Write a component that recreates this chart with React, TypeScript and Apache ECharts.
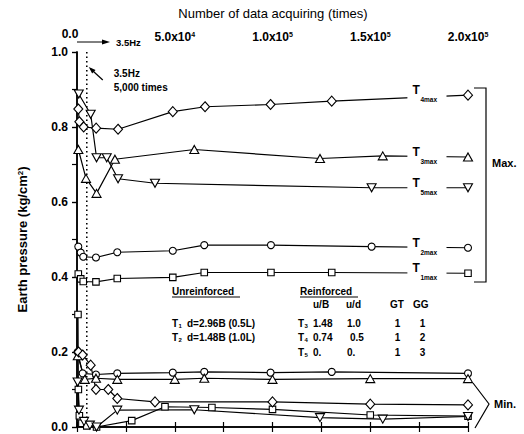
import React, { useEffect, useRef } from 'react';
import * as echarts from 'echarts';

const FONT = "'Liberation Sans', Arial, Helvetica, sans-serif";

// ---- tick labels ----
const topTickBase = ['0.0', '5.0x10', '1.0x10', '1.5x10', '2.0x10'];
const topTickExp = ['', '4', '5', '5', '5'];

// ---- data: [number of data acquiring (times), earth pressure (kg/cm2)] ----
const T1max = [[665, 0.408], [1900, 0.395], [3200, 0.388], [9700, 0.387], [20600, 0.396], [49000, 0.399], [65100, 0.412], [99200, 0.412], [130300, 0.412], [200000, 0.41]];
const T2max = [[665, 0.481], [1900, 0.465], [3200, 0.454], [9700, 0.452], [20600, 0.466], [49000, 0.47], [65100, 0.485], [99200, 0.485], [150700, 0.481], [200000, 0.478]];
const T3max = [[700, 0.74], [4600, 0.663], [10000, 0.623], [19400, 0.714], [60000, 0.74], [124300, 0.716], [156400, 0.723], [200000, 0.72]];
const T4max = [[665, 0.848], [1200, 0.814], [3400, 0.8], [9800, 0.797], [21000, 0.794], [49000, 0.841], [65500, 0.854], [99000, 0.86], [130300, 0.869], [200000, 0.885]];
const T5max = [[900, 0.888], [7000, 0.834], [10000, 0.718], [15200, 0.718], [21000, 0.662], [39900, 0.65], [150700, 0.638], [200000, 0.638]];

const T1min = [[500, 0.3], [700, 0.1], [1200, 0.03], [2500, 0.01], [5000, 0.003], [10000, 0.0], [28000, 0.017], [45000, 0.054], [69000, 0.052], [100000, 0.047], [150000, 0.032], [200000, 0.029]];
const T2min = [[300, 0.2], [2900, 0.143], [9700, 0.14], [20600, 0.143], [49000, 0.145], [65100, 0.147], [99000, 0.145], [130300, 0.147], [200000, 0.143]];
const T3min = [[400, 0.19], [4000, 0.127], [9700, 0.13], [20600, 0.127], [50000, 0.127], [65100, 0.13], [100000, 0.127], [150000, 0.129], [200000, 0.129]];
const T4min = [[800, 0.2], [2900, 0.192], [7000, 0.165], [9700, 0.1], [16000, 0.1], [20600, 0.076], [39900, 0.067], [100000, 0.067], [150000, 0.061], [200000, 0.059]];
const T5min = [[300, 0.12], [1000, 0.045], [3600, 0.015], [6600, 0.005], [10000, 0.0], [20600, 0.045], [60000, 0.046], [124300, 0.025], [156400, 0.021], [200000, 0.028]];

const hzTime = 5000;

// legend table
const unreinforcedRows = [
  { sub: '1', text: 'd=2.96B (0.5L)' },
  { sub: '2', text: 'd=1.48B (1.0L)' },
];
const reinforcedHeader = ['u/B', 'u/d', 'GT', 'GG'];
const reinforcedRows = [
  { sub: '3', vals: ['1.48', '1.0', '1', '1'] },
  { sub: '4', vals: ['0.74', '0.5', '1', '2'] },
  { sub: '5', vals: ['0.', '0.', '1', '3'] },
];

const DOWN_TRI = 'path://M0,0L10,0L5,9Z';

const seriesDefs = [
  { name: 'T1max', data: T1max, symbol: 'rect', size: 6.5 },
  { name: 'T2max', data: T2max, symbol: 'circle', size: 7 },
  { name: 'T3max', data: T3max, symbol: 'triangle', size: [9, 8] },
  { name: 'T4max', data: T4max, symbol: 'diamond', size: [9, 10] },
  { name: 'T5max', data: T5max, symbol: DOWN_TRI, size: [9, 8] },
  { name: 'T1min', data: T1min, symbol: 'rect', size: 6.5 },
  { name: 'T2min', data: T2min, symbol: 'circle', size: 7 },
  { name: 'T3min', data: T3min, symbol: 'triangle', size: [9, 8] },
  { name: 'T4min', data: T4min, symbol: 'diamond', size: [9, 10] },
  { name: 'T5min', data: T5min, symbol: DOWN_TRI, size: [9, 8] },
];

const endLabels = [
  { sub: '4max', data: T4max },
  { sub: '3max', data: T3max },
  { sub: '5max', data: T5max },
  { sub: '2max', data: T2max },
  { sub: '1max', data: T1max },
];
const gapStartX = 169000;
const gapEndX = 189000;

const txt = (text: string, x: number, y: number, size: number, o: any = {}) => ({
  type: 'text',
  x,
  y,
  z: 100,
  silent: true,
  style: {
    text,
    font: `${o.weight || 'bold'} ${size}px ${FONT}`,
    fill: '#000',
    align: o.align || 'left',
    textAlign: o.align || 'left',
    verticalAlign: o.va || 'middle',
    textVerticalAlign: o.va || 'middle',
  },
});

const axisLine = { show: true, lineStyle: { color: '#000', width: 1.5 } };

export default function App() {
  const ref = useRef<HTMLDivElement>(null);

  useEffect(() => {
    if (!ref.current) return;
    const chart = echarts.init(ref.current, null, { renderer: 'svg' });

    const series: any[] = seriesDefs.map((d) => ({
      name: d.name,
      type: 'line',
      data: d.data,
      symbol: d.symbol,
      symbolSize: d.size,
      showAllSymbol: true,
      lineStyle: { color: '#000', width: 1.2 },
      itemStyle: { color: '#fff', borderColor: '#000', borderWidth: 1.1 },
      emphasis: { disabled: true },
      silent: true,
      z: 2,
    }));
    series.push({
      name: 'hz',
      type: 'line',
      data: [[hzTime, 0], [hzTime, 1]],
      symbol: 'none',
      lineStyle: { color: '#000', width: 1.6, type: [1.5, 3] },
      silent: true,
      z: 1,
    });

    const option: any = {
      animation: false,
      backgroundColor: '#fff',
      grid: { left: 77, right: 56, top: 52, bottom: 7, containLabel: false },
      xAxis: [
        {
          type: 'value', position: 'bottom', min: 0, max: 200000, interval: 25000,
          axisLine, axisTick: { inside: true, length: 5, lineStyle: { color: '#000', width: 1.2 } },
          axisLabel: { show: false }, splitLine: { show: false },
        },
        {
          type: 'value', position: 'top', min: 0, max: 200000, interval: 25000,
          axisLine, axisTick: { inside: true, length: 5, lineStyle: { color: '#000', width: 1.2 } },
          splitLine: { show: false },
          axisLabel: {
            margin: 9,
            color: '#000',
            formatter: (v: number) => {
              if (v % 50000 !== 0) return '';
              const i = Math.round(v / 50000);
              if (!topTickExp[i]) return `{z|${topTickBase[i]}}`;
              return `{b|${topTickBase[i]}}{e|${topTickExp[i]}}`;
            },
            rich: {
              b: { fontSize: 12, fontWeight: 'bold', fontFamily: FONT, color: '#000' },
              e: { fontSize: 7, fontWeight: 'bold', fontFamily: FONT, color: '#000', verticalAlign: 'top' },
              z: { fontSize: 12, fontWeight: 'bold', fontFamily: FONT, color: '#000', padding: [0, 14, 3, 0] },
            },
          },
        },
      ],
      yAxis: [
        {
          type: 'value', position: 'left', min: 0, max: 1, interval: 0.2,
          axisLine, axisTick: { inside: false, length: 5, lineStyle: { color: '#000', width: 1.2 } },
          splitLine: { show: false },
          axisLabel: { formatter: (v: number) => v.toFixed(1), color: '#000', fontWeight: 'bold', fontSize: 12, fontFamily: FONT, margin: 9 },
          name: '{a|Earth pressure (kg/cm}{s|2}{a|)}',
          nameLocation: 'middle',
          nameRotate: 90,
          nameGap: 48,
          nameTextStyle: {
            color: '#000',
            rich: {
              a: { fontSize: 13, fontWeight: 'bold', fontFamily: FONT, color: '#000' },
              s: { fontSize: 8, fontWeight: 'bold', fontFamily: FONT, color: '#000', verticalAlign: 'top' },
            },
          },
        },
        {
          type: 'value', position: 'right', min: 0, max: 1, interval: 0.1,
          axisLine, axisTick: { inside: true, length: 5, lineStyle: { color: '#000', width: 1.2 } },
          axisLabel: { show: false }, splitLine: { show: false },
        },
      ],
      series,
    };

    chart.setOption(option);

    const px = (x: number, y: number) => chart.convertToPixel({ xAxisIndex: 0, yAxisIndex: 0 }, [x, y]) as number[];
    const g: any[] = [];

    // title
    g.push(txt('Number of data acquiring (times)', 273, 13, 13, { weight: 'normal', align: 'center' }));

    // top "0.0 -> 3.5Hz"
    const [ax0, topY] = px(0, 1);
    const ay = topY - 10;
    g.push({ type: 'line', z: 100, silent: true, shape: { x1: ax0, y1: ay, x2: ax0 + 28, y2: ay }, style: { stroke: '#000', lineWidth: 1 } });
    g.push({ type: 'polygon', z: 100, silent: true, shape: { points: [[ax0 + 33, ay], [ax0 + 25, ay - 2.5], [ax0 + 25, ay + 2.5]] }, style: { fill: '#000' } });
    g.push(txt('3.5Hz', ax0 + 39, ay, 9.5));

    // inner annotation arrow + text
    const [hx] = px(hzTime, 1);
    g.push({ type: 'line', z: 100, silent: true, shape: { x1: hx + 16, y1: 80, x2: hx + 4, y2: 69 }, style: { stroke: '#000', lineWidth: 1.2 } });
    g.push({ type: 'polygon', z: 100, silent: true, shape: { points: [[hx + 2, 67], [hx + 8.8, 70], [hx + 5.4, 73.6]] }, style: { fill: '#000' } });
    g.push(txt('3.5Hz', hx + 27, 73, 10));
    g.push(txt('5,000 times', hx + 27, 87, 10));

    // end labels with line gaps
    endLabels.forEach((l) => {
      const v = l.data[l.data.length - 1][1];
      const [gx0, gy] = px(gapStartX, v);
      const [gx1] = px(gapEndX, v);
      g.push({ type: 'rect', z: 90, silent: true, shape: { x: gx0, y: gy - 4, width: gx1 - gx0, height: 8 }, style: { fill: '#ffffff', stroke: 'none' } });
      g.push(txt('T', gx0 + 5, gy + 1, 12, { va: 'bottom' }));
      g.push(txt(l.sub, gx0 + 13, gy + 1, 6.5, { va: 'top' }));
    });

    // Max bracket
    g.push({ type: 'polyline', z: 100, silent: true, shape: { points: [[474, 88], [486, 88], [486, 282], [474, 282]] }, style: { stroke: '#000', lineWidth: 1.2, fill: 'none' } });
    g.push(txt('Max.', 492, 163, 11));
    // Min bracket
    g.push({ type: 'polyline', z: 100, silent: true, shape: { points: [[473, 383], [489, 404], [475, 428]] }, style: { stroke: '#000', lineWidth: 1.2, fill: 'none' } });
    g.push(txt('Min.', 494, 404, 11));

    // legend table
    g.push(txt('Unreinforced', 172, 291, 10));
    g.push({ type: 'line', z: 100, silent: true, shape: { x1: 172, y1: 297, x2: 240, y2: 297 }, style: { stroke: '#000', lineWidth: 1 } });
    g.push(txt('Reinforced', 300, 291, 10));
    g.push({ type: 'line', z: 100, silent: true, shape: { x1: 300, y1: 297, x2: 358, y2: 297 }, style: { stroke: '#000', lineWidth: 1 } });
    const colX = [313, 346, 390, 413];
    reinforcedHeader.forEach((h, i) => g.push(txt(h, colX[i], 304, 10)));
    const rowY = [323, 337, 352];
    unreinforcedRows.forEach((r, i) => {
      g.push(txt('T', 172, rowY[i], 10));
      g.push(txt(r.sub, 178.5, rowY[i] + 3, 6));
      g.push(txt(r.text, 187, rowY[i], 10));
    });
    const valX = [313, 347, 397.5, 422.5];
    reinforcedRows.forEach((r, i) => {
      g.push(txt('T', 298, rowY[i], 10));
      g.push(txt(r.sub, 304.5, rowY[i] + 3, 6));
      r.vals.forEach((v, j) => {
        if (j >= 2) g.push(txt(v, valX[j], rowY[i], 10, { align: 'center' }));
        else g.push(txt(v, valX[j] + (i === 1 && j === 1 ? 3 : 0), rowY[i], 10));
      });
    });

    chart.setOption({ graphic: { elements: g } });

    return () => chart.dispose();
  }, []);

  return (
    <div
      ref={ref}
      style={{ position: 'absolute', left: 0, top: 0, width: 524, height: 434, background: '#fff' }}
    />
  );
}
